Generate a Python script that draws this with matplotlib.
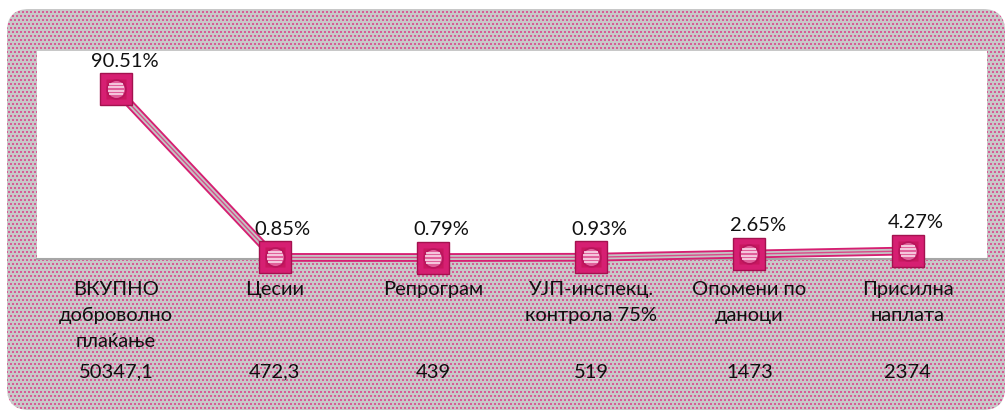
import numpy as np
import matplotlib
matplotlib.use("Agg")
import matplotlib.pyplot as plt
from matplotlib.patches import FancyBboxPatch
from matplotlib.path import Path
from matplotlib.transforms import blended_transform_factory

# chart data
categories = ["ВКУПНО\nдоброволно\nплаќање", "Цесии", "Репрограм",
              "УЈП-инспекц.\nконтрола 75%", "Опомени по\nданоци", "Присилна\nнаплата"]
shares = [90.51, 0.85, 0.79, 0.93, 2.65, 4.27]
amounts = ["50347,1", "472,3", "439", "519", "1473", "2374"]

PINK = "#d61f72"
PINK_DARK = "#a3124f"

plt.rcParams["font.family"] = ["Lato", "DejaVu Sans"]

W, H = 1008, 414
fig = plt.figure(figsize=(W / 100, H / 100), dpi=100)
fig.patch.set_facecolor("white")

# dotted frame behind everything
bg = fig.add_axes([0, 0, 1, 1], zorder=0)
bg.set_xlim(0, W)
bg.set_ylim(H, 0)
bg.axis("off")
yy, xx = np.mgrid[0:H, 0:W]
dots = (yy % 4 < 2) & ((xx + 2 * ((yy // 4) % 2)) % 4 < 2)
tex = np.empty((H, W, 3))
tex[:] = np.array([200, 200, 200]) / 255
tex[dots] = np.array([214, 92, 150]) / 255
im = bg.imshow(tex, extent=(0, W, H, 0), interpolation="nearest", aspect="auto")
frame = FancyBboxPatch((7, 10), 998, 401, boxstyle="round,pad=0,rounding_size=22",
                       transform=bg.transData, facecolor="none", edgecolor="none")
bg.add_patch(frame)
im.set_clip_path(frame)

# plot area
ax = fig.add_axes([37 / W, 1 - 260 / H, 950 / W, 208 / H], zorder=2)
ax.set_facecolor("white")
ax.set_xlim(-0.5, len(shares) - 0.5)
ax.set_ylim(0, 111)
for s in ["top", "left", "right"]:
    ax.spines[s].set_visible(False)
ax.spines["bottom"].set_color("#a6a6a6")
ax.spines["bottom"].set_linewidth(1.5)
ax.set_xticks([])
ax.set_yticks([])

x = np.arange(len(shares))
# compound line: pink outer, gray band, thin pink centre
ax.plot(x, shares, color=PINK, lw=6.3, solid_capstyle="butt", zorder=3, clip_on=False)
ax.plot(x, shares, color="#c4c4c4", lw=3.6, solid_capstyle="butt", zorder=3, clip_on=False)
ax.plot(x, shares, color="#d94a8a", lw=1.0, solid_capstyle="butt", zorder=3, clip_on=False)

# bevelled square markers with striped ball
ax.plot(x, shares, ls="none", marker="s", ms=23, mfc=PINK, mec=PINK_DARK, mew=1.0,
        zorder=4, clip_on=False)
ax.plot(x, shares, ls="none", marker="s", ms=15, mfc="#c8175f", mec="none",
        zorder=4, clip_on=False)
ax.plot(x, shares, ls="none", marker="o", ms=13.5, mfc="#e0609a", mec="#b8145c", mew=1.2,
        zorder=5, clip_on=False)
stripe_y = [-0.5, -0.17, 0.17, 0.5]
verts, codes = [], []
for sy in stripe_y:
    hw = np.sqrt(1 - sy ** 2) * 0.85
    verts += [(-hw, sy), (hw, sy)]
    codes += [Path.MOVETO, Path.LINETO]
stripes = Path(verts, codes)
ax.plot(x, shares, ls="none", marker=stripes, ms=11, mec="#fbe4ef", mew=1.1,
        zorder=6, clip_on=False)

for xi, v in zip(x, shares):
    ax.annotate(f"{v:.2f}%", (xi, v), xytext=(6, 21), textcoords="offset points",
                ha="center", va="center", fontsize=14.5, color="#111111", zorder=7,
                annotation_clip=False)

# category labels and amounts below the axis
tr = blended_transform_factory(ax.transData, ax.transAxes)
for xi, cat, amt in zip(x, categories, amounts):
    ax.text(xi, -0.1, cat, transform=tr, ha="center", va="top", fontsize=14.5,
            color="#111111", linespacing=1.65)
    ax.text(xi, -0.54, amt, transform=tr, ha="center", va="center", fontsize=14.5,
            color="#111111")

fig.savefig("out.png", dpi=100)
